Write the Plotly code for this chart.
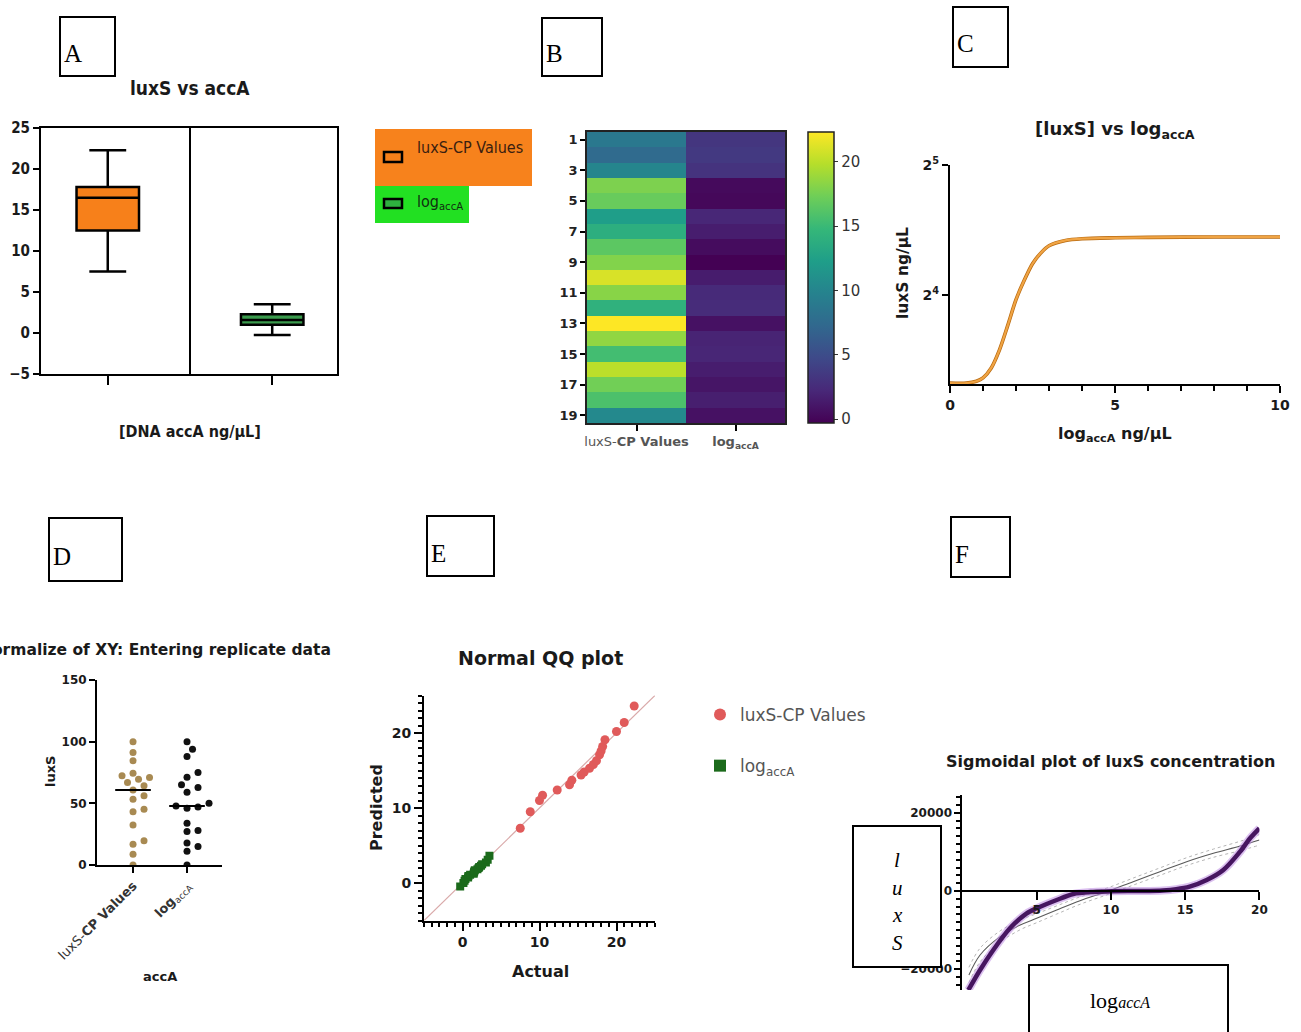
import numpy as np
import plotly.graph_objects as go

W, H = 1301, 1032


def px(x):
    return x / W


def py(y):
    return 1 - y / H


# ---------------- data ----------------
rows = list(range(1, 20))
series_names = ["luxS-CP Values", "log<sub>accA</sub>"]
luxs_cp = [8.8, 7.5, 10.0, 17.8, 17.0, 12.3, 13.9, 16.5, 18.0, 21.0,
           18.2, 14.2, 22.3, 18.5, 15.4, 20.0, 17.4, 15.8, 10.4]
log_acca = [3.27, 3.5, 3.04, 0.27, 0.12, 2.17, 1.49, 0.38, -0.3, 1.45,
            2.40, 2.55, 0.73, 1.94, 2.09, 1.52, 0.99, 1.6, 0.76]

# box statistics (panel A)
box_pos = [0, 1]
box_q1 = [12.5, 1.0]
box_median = [16.5, 1.6]
box_q3 = [17.8, 2.3]
box_low = [7.5, -0.25]
box_high = [22.3, 3.5]

# [luxS] vs log accA fitted curve (panel C)
fit_x = [0, 0.5, 0.8, 1.0, 1.25, 1.5, 1.75, 2.0, 2.25, 2.5, 2.75, 3.0, 3.5, 4, 5, 6, 8, 10]
fit_y = [10.0, 10.0, 10.1, 10.28, 10.84, 11.94, 13.6, 15.6, 17.3, 18.9, 20.0, 20.8,
         21.4, 21.6, 21.7, 21.75, 21.8, 21.8]

# QQ plot predicted values (panel E)
qq_pred_luxs = [7.3, 9.5, 11.0, 11.7, 12.4, 13.1, 13.7, 14.4, 14.8, 15.3,
                15.8, 16.3, 17.1, 17.6, 18.2, 19.1, 20.2, 21.4, 23.6]
qq_pred_log = [-0.45, 0.0, 0.3, 0.55, 0.75, 0.95, 1.1, 1.25, 1.4, 1.55,
               1.7, 1.85, 2.0, 2.15, 2.3, 2.5, 2.75, 3.1, 3.65]
identity_line = [-5, 25]

# sigmoidal plot (panel F)
sig_x = [0.4, 1.19, 2.08, 3.2, 4.33, 5.0, 6.35, 7.47, 8.8, 10.1, 12.0, 13.5,
         14.4, 15.3, 16.45, 17.57, 18.7, 19.37, 20.0]
sig_y = [-25300, -20180, -15070, -9530, -5700, -4420, -2300, -770, -250, -60, 0, 150,
         450, 1100, 2800, 5360, 10040, 13460, 16000]
fit2_x = [0.44, 1.19, 2.54, 3.89, 5.0, 6.35, 7.92, 9.71, 11.5, 13.3, 15.1, 16.9, 18.7, 20.0]
fit2_y = [-21460, -16350, -11670, -8690, -6980, -4850, -2470, -170, 2380, 4930,
          7480, 9630, 11490, 13030]
band_upper = [-19500, -14600, -10200, -7400, -5800, -3800, -1500, 700, 3300, 5900,
              8500, 10700, 12700, 14400]
band_lower = [-23400, -18100, -13100, -9900, -8100, -5900, -3400, -1000, 1500, 4000,
              6500, 8600, 10300, 11700]

# ---------------- styles ----------------
NARROW = "Liberation Sans Narrow, Arial Narrow, DejaVu Sans Condensed, sans-serif"
SANS = "DejaVu Sans, Verdana, sans-serif"
SERIF = "Liberation Serif, Times New Roman, serif"
ORANGE = "#F7801A"
GREEN_BOX = "#3A9A4C"
INK = "#1a1a1a"

fig = go.Figure()

# ---------------- A: box plot ----------------
fills = [ORANGE, GREEN_BOX]
for i in range(2):
    fig.add_trace(go.Box(
        x=[box_pos[i]], q1=[box_q1[i]], median=[box_median[i]], q3=[box_q3[i]],
        lowerfence=[box_low[i]], upperfence=[box_high[i]],
        width=0.38, whiskerwidth=0.59, fillcolor=fills[i],
        line=dict(color="black", width=2.5), boxpoints=False,
        xaxis="x", yaxis="y", showlegend=False, hoverinfo="skip"))

# ---------------- B: heatmap ----------------
zvals = [[a, b] for a, b in zip(luxs_cp, log_acca)]
allv = luxs_cp + log_acca
fig.add_trace(go.Heatmap(
    z=zvals, x=[0, 1], y=rows, colorscale="Viridis",
    zmin=min(allv), zmax=max(allv), xaxis="x2", yaxis="y2", showscale=True,
    colorbar=dict(x=px(808), xanchor="left", y=py(132), yanchor="top",
                  len=291 / H, lenmode="fraction", thickness=26, thicknessmode="pixels",
                  outlinewidth=1.5, outlinecolor="#222", xpad=0, ypad=0,
                  tickvals=[0, 5, 10, 15, 20], ticks="outside", ticklen=4,
                  tickcolor="#333", tickfont=dict(size=15, color="#333", family=SANS)),
    hoverinfo="skip"))

# ---------------- C: sigmoid curve ----------------
fig.add_trace(go.Scatter(x=fit_x, y=fit_y, mode="lines",
                         line=dict(color="#B86A10", width=3.6, shape="spline", smoothing=0.8),
                         xaxis="x3", yaxis="y3", showlegend=False, hoverinfo="skip"))
fig.add_trace(go.Scatter(x=fit_x, y=fit_y, mode="lines",
                         line=dict(color="#F0A444", width=2.2, shape="spline", smoothing=0.8),
                         xaxis="x3", yaxis="y3", showlegend=False, hoverinfo="skip"))

# ---------------- D: normalized scatter ----------------
def normalize(v):
    a = np.asarray(v, dtype=float)
    return (a - a.min()) / (a.max() - a.min()) * 100.0


def swarm(vals, py_per_unit, px_per_unit, diam=8.0, step=5.5):
    placed = []
    offs = np.zeros(len(vals))
    for i in np.argsort(vals):
        yy = vals[i] * py_per_unit
        cands = [0.0]
        for k in range(1, 8):
            cands += [k * step, -k * step]
        for c in cands:
            if all((c - ox) ** 2 + (yy - oy) ** 2 >= diam ** 2 for ox, oy in placed):
                break
        placed.append((c, yy))
        offs[i] = c / px_per_unit
    return offs


d_py = 185 / 150.0
d_px = 54.0
norm_sets = [normalize(luxs_cp), normalize(log_acca)]
d_colors = ["#A88A52", "#111111"]
for ci, vals in enumerate(norm_sets):
    offs = swarm(vals, d_py, d_px)
    fig.add_trace(go.Scatter(x=ci + offs, y=vals, mode="markers",
                             marker=dict(size=7, color=d_colors[ci]),
                             xaxis="x4", yaxis="y4", showlegend=False, hoverinfo="skip"))
    med = float(np.median(vals))
    fig.add_trace(go.Scatter(x=[ci - 0.33, ci + 0.33], y=[med, med], mode="lines",
                             line=dict(color="black", width=2),
                             xaxis="x4", yaxis="y4", showlegend=False, hoverinfo="skip"))

# ---------------- E: QQ plot ----------------
fig.add_trace(go.Scatter(x=identity_line, y=identity_line, mode="lines",
                         line=dict(color="#D9A9A9", width=1.2),
                         xaxis="x5", yaxis="y5", showlegend=False, hoverinfo="skip"))
fig.add_trace(go.Scatter(x=sorted(luxs_cp), y=qq_pred_luxs, mode="markers",
                         marker=dict(symbol="circle", size=9, color="#E05A5A"),
                         name=series_names[0], legendgroup="g1",
                         xaxis="x5", yaxis="y5", hoverinfo="skip"))
fig.add_trace(go.Scatter(x=sorted(log_acca), y=qq_pred_log, mode="markers",
                         marker=dict(symbol="square", size=8, color="#1B6A1B"),
                         name=series_names[1], legendgroup="g2",
                         xaxis="x5", yaxis="y5", hoverinfo="skip"))

# ---------------- F: sigmoidal plot ----------------
for band in (band_upper, band_lower):
    fig.add_trace(go.Scatter(x=fit2_x, y=band, mode="lines",
                             line=dict(color="#B5B5B5", width=1, dash="dot", shape="spline"),
                             xaxis="x6", yaxis="y6", showlegend=False, hoverinfo="skip"))
fig.add_trace(go.Scatter(x=fit2_x, y=fit2_y, mode="lines",
                         line=dict(color="#5A5A5A", width=1.1, shape="spline"),
                         xaxis="x6", yaxis="y6", showlegend=False, hoverinfo="skip"))
fig.add_trace(go.Scatter(x=sig_x, y=sig_y, mode="lines",
                         line=dict(color="rgba(190,140,225,0.55)", width=8, shape="spline", smoothing=0.8),
                         xaxis="x6", yaxis="y6", showlegend=False, hoverinfo="skip"))
fig.add_trace(go.Scatter(x=sig_x, y=sig_y, mode="lines",
                         line=dict(color="#461660", width=4.5, shape="spline", smoothing=0.8),
                         xaxis="x6", yaxis="y6", showlegend=False, hoverinfo="skip"))

# ---------------- axes ----------------
def base_axis(**kw):
    d = dict(showgrid=False, zeroline=False, showline=True, linecolor="black",
             linewidth=2, ticks="outside", tickcolor="black", tickwidth=2, automargin=False)
    d.update(kw)
    return d


layout_axes = dict(
    # A
    xaxis=base_axis(domain=[px(41), px(337)], range=[-0.406, 1.394], anchor="y",
                    tickvals=box_pos, showticklabels=False, ticklen=9, mirror=True),
    yaxis=base_axis(domain=[py(374), py(128)], range=[-5, 25], anchor="x",
                    tickvals=[-5, 0, 5, 10, 15, 20, 25], ticklen=6, mirror=True,
                    tickfont=dict(family=NARROW, size=15, color=INK, weight="bold")),
    # B
    xaxis2=base_axis(domain=[px(587), px(785)], range=[-0.5, 1.5], anchor="y2",
                     tickvals=[0, 1], ticktext=["luxS-<b>CP Values</b>", "<b>log<sub>accA</sub></b>"],
                     ticklen=6, linewidth=1.5, linecolor="#222", mirror=True,
                     tickfont=dict(family=SANS, size=13, color="#555")),
    yaxis2=base_axis(domain=[py(423), py(132)], range=[19.5, 0.5], anchor="x2",
                     tickvals=rows[::2], ticklen=5, linewidth=1.5, linecolor="#222", mirror=True,
                     tickfont=dict(family=SANS, size=13, color="#222", weight="bold")),
    # C
    xaxis3=base_axis(domain=[px(950), px(1280)], range=[0, 10], anchor="y3",
                     tick0=0, dtick=5, ticklen=7,
                     minor=dict(dtick=1, ticks="outside", ticklen=5, tickwidth=1.5, tickcolor="black"),
                     tickfont=dict(family=SANS, size=14, color=INK, weight="bold")),
    yaxis3=base_axis(domain=[py(384), py(165)], type="log",
                     range=[np.log10(9.95), np.log10(32)], anchor="x3",
                     tickvals=[16, 32], ticktext=["2<sup>4</sup>", "2<sup>5</sup>"], ticklen=6,
                     tickfont=dict(family=SANS, size=14, color=INK, weight="bold")),
    # D
    xaxis4=base_axis(domain=[px(97), px(222)], range=[-0.667, 1.648], anchor="y4",
                     tickvals=[0, 1], tickangle=-45, ticklen=6,
                     ticktext=["luxS-<b>CP Values</b>", "<b>log</b><sub>accA</sub>"],
                     tickfont=dict(family=SANS, size=13, color="#333")),
    yaxis4=base_axis(domain=[py(865), py(680)], range=[0, 150], anchor="x4",
                     tickvals=[0, 50, 100, 150], ticklen=6,
                     tickfont=dict(family=SANS, size=12, color=INK, weight="bold")),
    # E
    xaxis5=base_axis(domain=[px(424), px(655)], range=[-5, 25], anchor="y5",
                     tick0=0, dtick=10, ticklen=8,
                     minor=dict(dtick=1, ticks="outside", ticklen=4, tickwidth=1.5, tickcolor="black"),
                     tickfont=dict(family=SANS, size=14, color=INK, weight="bold")),
    yaxis5=base_axis(domain=[py(920.5), py(695.5)], range=[-5, 25], anchor="x5",
                     tick0=0, dtick=10, ticklen=8,
                     minor=dict(dtick=1, ticks="outside", ticklen=4, tickwidth=1.5, tickcolor="black"),
                     tickfont=dict(family=SANS, size=14, color=INK, weight="bold")),
    # F
    xaxis6=base_axis(domain=[px(962.4), px(1259.4)], range=[0, 20], anchor="free",
                     position=py(891), tickvals=[5, 10, 15, 20], ticklen=8, linewidth=1.5,
                     tickfont=dict(family=SANS, size=12, color=INK, weight="bold")),
    yaxis6=base_axis(domain=[py(990), py(795)], range=[-25290, 24520], anchor="x6",
                     tick0=0, dtick=20000, ticklen=6, tickformat="d",
                     minor=dict(dtick=2000, ticks="outside", ticklen=4, tickwidth=1.5, tickcolor="black"),
                     tickfont=dict(family=SANS, size=12, color=INK, weight="bold")),
)

# ---------------- shapes ----------------
shapes = []


def rect(x0, y0, x1, y1, fill="rgba(0,0,0,0)", lw=2, lc="black"):
    shapes.append(dict(type="rect", xref="paper", yref="paper",
                       x0=px(x0), x1=px(x1), y0=py(y1), y1=py(y0),
                       fillcolor=fill, line=dict(color=lc, width=lw), layer="above"))


# panel letter boxes
letter_boxes = [(60, 17, 115, 76), (542, 18, 602, 76), (953, 7, 1008, 67),
                (49, 518, 122, 581), (427, 516, 494, 576), (951, 517, 1010, 577)]
for b in letter_boxes:
    rect(*b, fill="white", lw=2)

# A divider
shapes.append(dict(type="line", xref="x", yref="y domain", x0=0.5, x1=0.5, y0=0, y1=1,
                   line=dict(color="black", width=2)))
# A legend
rect(375, 129, 532, 186, fill="#F7821C", lw=0, lc="rgba(0,0,0,0)")
rect(375, 186, 469, 223, fill="#22E022", lw=0, lc="rgba(0,0,0,0)")
rect(384, 152, 402, 162, fill=ORANGE, lw=2.5)
rect(384, 199, 402, 208, fill="#2FB03F", lw=2.5)
# F overlay boxes
rect(853, 826, 941, 967, fill="white", lw=2)
rect(1029, 965, 1228, 1045, fill="white", lw=2)

# ---------------- annotations ----------------
annotations = []


def ann(text, x, y, size, family=SANS, bold=False, color=INK, xanchor="center",
        yanchor="middle", angle=0):
    annotations.append(dict(text=text, x=px(x), y=py(y), xref="paper", yref="paper",
                            showarrow=False, xanchor=xanchor, yanchor=yanchor,
                            textangle=angle,
                            font=dict(family=family, size=size, color=color,
                                      weight="bold" if bold else "normal")))


for letter, (x0, y0, x1, y1) in zip("ABCDEF", letter_boxes):
    ann(letter, x0 + 2, (y0 + y1) / 2 + 7, 25, family=SERIF, color="black", xanchor="left")

# A
ann("luxS vs accA", 190, 88, 19, family=NARROW, bold=True)
ann("[DNA accA ng/µL]", 190, 431, 16, family=NARROW, bold=True)
ann("luxS-CP Values", 415, 147, 16, family=NARROW, color="#3a2010", xanchor="left")
ann("log<sub>accA</sub>", 415, 202, 16, family=NARROW, color="#103010", xanchor="left")
# C
ann("[luxS] vs log<sub>accA</sub>", 1115, 130, 18, bold=True)
ann("log<sub>accA</sub> ng/µL", 1115, 434, 16, bold=True)
ann("luxS ng/µL", 903, 273, 15.5, bold=True, angle=-90)
# D
ann("Normalize of XY: Entering replicate data", 333, 650, 15.5, bold=True, xanchor="right")
ann("luxS", 50, 772, 13, bold=True, angle=-90)
ann("accA", 160, 976, 13, bold=True)
# E
ann("Normal QQ plot", 540, 658, 19, bold=True)
ann("Actual", 540, 971, 16, bold=True)
ann("Predicted", 376, 808, 16, bold=True, angle=-90)
# F
ann("Sigmoidal plot of luxS concentration", 1277, 761, 16, bold=True, xanchor="right")
for i, ch in enumerate("luxS"):
    ann("<i>" + ch + "</i>", 897, 860 + i * 27.5, 21, family=SERIF, color="black")
ann("log<span style='font-size:16px'><i>accA</i></span>", 1120, 1000, 22, family=SERIF,
    color="black")

fig.update_layout(
    template="none",
    width=W, height=H, margin=dict(l=0, r=0, t=0, b=0, autoexpand=False),
    paper_bgcolor="white", plot_bgcolor="white",
    shapes=shapes, annotations=annotations,
    showlegend=True,
    legend=dict(x=px(700), y=py(697), xanchor="left", yanchor="top",
                traceorder="grouped", tracegroupgap=26,
                font=dict(family=SANS, size=17, color="#555"),
                bgcolor="rgba(0,0,0,0)", itemsizing="constant"),
    **layout_axes,
)

fig.write_html("out.html")
